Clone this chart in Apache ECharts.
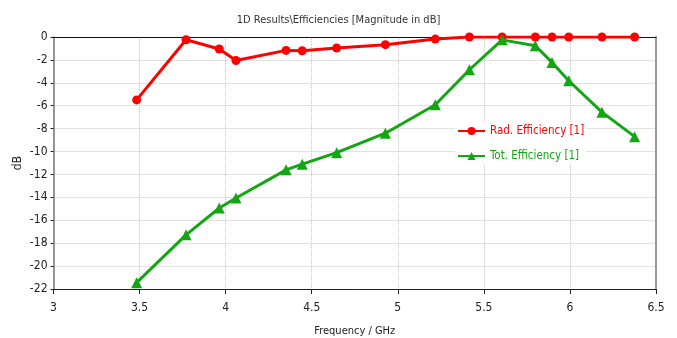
<!DOCTYPE html>
<html><head><meta charset="utf-8">
<script src="https://cdn.jsdelivr.net/npm/echarts@6/dist/echarts.min.js"></script>
<style>html,body{margin:0;padding:0;background:#fff}#c{width:677px;height:338px}</style>
</head><body><div id="c"></div>
<script>
const freqRad = [3.483, 3.770, 3.963, 4.060, 4.351, 4.445, 4.645, 4.928, 5.218, 5.416, 5.606, 5.799, 5.896, 5.993, 6.186, 6.376];
const radEff  = [-5.49, -0.24, -1.05, -2.05, -1.17, -1.20, -0.96, -0.67, -0.18, 0.0, 0.0, 0.0, 0.0, 0.0, 0.0, 0.0];
const freqTot = [3.483, 3.770, 3.963, 4.060, 4.351, 4.445, 4.645, 4.928, 5.218, 5.416, 5.606, 5.799, 5.896, 5.993, 6.186, 6.376];
const totEff  = [-21.45, -17.27, -14.93, -14.06, -11.6, -11.1, -10.1, -8.4, -5.92, -2.86, -0.25, -0.76, -2.22, -3.82, -6.56, -8.7];
const seriesNames = ['Rad. Efficiency [1]', 'Tot. Efficiency [1]'];
const titleText = '1D Results\\Efficiencies [Magnitude in dB]';
const yAxisName = 'dB';

const FONT = '"DejaVu Sans Condensed", sans-serif';
const chart = echarts.init(document.getElementById('c'), null, {renderer: 'canvas'});
const pair = (xs, ys) => xs.map((x, i) => [x, ys[i]]);
chart.setOption({
  animation: false,
  backgroundColor: '#fff',
  textStyle: {fontFamily: FONT},
  title: {text: titleText, left: 'center', top: 10,
    textStyle: {fontFamily: FONT, fontSize: 11, fontWeight: 'normal', color: '#333'}},
  graphic: [{
    type: 'text', x: 18, y: 163, rotation: Math.PI / 2,
    style: {text: yAxisName, fontFamily: FONT, fontSize: 12, fill: '#222',
      textAlign: 'center', textVerticalAlign: 'middle'}
  }],
  legend: {
    orient: 'vertical', left: 455, top: 123, itemGap: 13, itemWidth: 27, itemHeight: 10,
    backgroundColor: '#fff', padding: [2, 2, 2, 2],
    textStyle: {fontFamily: FONT, fontSize: 11.5, color: 'inherit'},
    data: seriesNames
  },
  grid: {left: 53.5, right: 21, top: 37, bottom: 49, containLabel: false, outerBoundsMode: 'none'},
  xAxis: [{
    type: 'value', min: 3, max: 6.5, interval: 0.5,
    name: 'Frequency / GHz', nameLocation: 'middle', nameGap: 37,
    nameTextStyle: {fontFamily: FONT, fontSize: 11, color: '#222'},
    axisLine: {show: true, onZero: false, lineStyle: {color: '#222', width: 1}},
    axisTick: {show: true, length: 5, lineStyle: {color: '#222'}},
    axisLabel: {fontFamily: FONT, fontSize: 12, color: '#222', margin: 13},
    splitLine: {show: true, lineStyle: {color: '#c4c4c4', type: [1, 1], width: 1}}
  }, {
    type: 'value', position: 'top', min: 3, max: 6.5, interval: 0.5,
    axisLine: {show: true, lineStyle: {color: '#111', width: 1}},
    axisTick: {show: false}, axisLabel: {show: false}, splitLine: {show: false}
  }],
  yAxis: [{
    type: 'value', min: -22, max: 0, interval: 2,
    axisLine: {show: true, onZero: false, lineStyle: {color: '#777', width: 1.5}},
    axisTick: {show: true, length: 3, lineStyle: {color: '#222'}},
    axisLabel: {fontFamily: FONT, fontSize: 12, color: '#222', margin: 6},
    splitLine: {show: true, lineStyle: {color: '#c4c4c4', type: [1, 1], width: 1}}
  }, {
    type: 'value', position: 'right', min: -22, max: 0, interval: 2,
    axisLine: {show: true, lineStyle: {color: '#999', width: 2}},
    axisTick: {show: false}, axisLabel: {show: false}, splitLine: {show: false}
  }],
  series: [{
    name: seriesNames[0], type: 'line', data: pair(freqRad, radEff),
    xAxisIndex: 0, yAxisIndex: 0,
    symbol: 'circle', symbolSize: 9, showAllSymbol: true,
    lineStyle: {color: '#ff0000', width: 3}, itemStyle: {color: '#ff0000'}, z: 3
  }, {
    name: seriesNames[1], type: 'line', data: pair(freqTot, totEff),
    xAxisIndex: 0, yAxisIndex: 0,
    symbol: 'triangle', symbolSize: 11, showAllSymbol: true,
    lineStyle: {color: '#12a612', width: 3}, itemStyle: {color: '#12a612'}, z: 4
  }]
});
</script></body></html>
